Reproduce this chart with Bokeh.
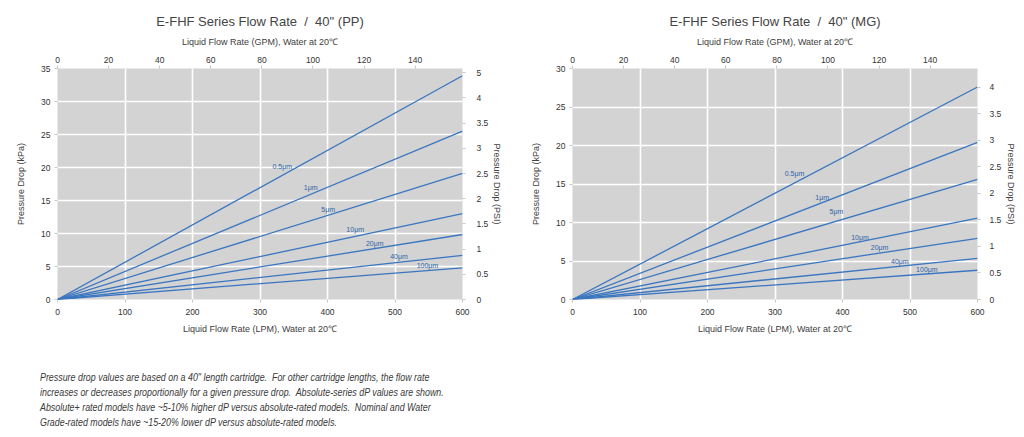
from bokeh.plotting import figure
from bokeh.models import Range1d, LinearAxis, FixedTicker, Div
from bokeh.layouts import column, row
from bokeh.embed import file_html
from bokeh.resources import INLINE
from bokeh.core.properties import value

# ---------------- data ----------------
lpm = [0, 600]
grades = ["0.5μm", "1μm", "5μm", "10μm", "20μm", "40μm", "100μm"]
pp_dp_at_600 = [33.9, 25.5, 19.1, 13.0, 9.85, 6.67, 4.8]
mg_dp_at_600 = [27.6, 20.4, 15.6, 10.56, 7.95, 5.35, 3.8]
pp_label_x = [333, 375, 401, 441, 470, 506, 548]
pp_label_y = [20.2, 16.9, 13.7, 10.6, 8.5, 6.45, 5.1]
mg_label_x = [329, 370, 391, 426, 455, 485, 525]
mg_label_y = [16.3, 13.3, 11.4, 8.1, 6.8, 5.0, 3.9]

lpm_ticks = [0, 100, 200, 300, 400, 500, 600]
gpm_ticks = [0, 20, 40, 60, 80, 100, 120, 140]
pp_kpa_ticks = [0, 5, 10, 15, 20, 25, 30, 35]
mg_kpa_ticks = [0, 5, 10, 15, 20, 25, 30]
pp_psi_ticks = [0, 0.5, 1, 1.5, 2, 2.5, 3, 3.5, 4, 4.5]
pp_psi_labels = ["0", "0.5", "1", "1.5", "2", "2.5", "3", "3.5", "4", "5"]
mg_psi_ticks = [0, 0.5, 1, 1.5, 2, 2.5, 3, 3.5, 4]
mg_psi_labels = ["0", "0.5", "1", "1.5", "2", "2.5", "3", "3.5", "4"]

LPM_PER_GPM = 3.785
KPA_PER_PSI = 6.895

FONT = "Liberation Sans"
LINE_COLOR = "#3a76c0"
TEXT_COLOR = "#404040"
NB = "\u00a0"


def style_axis(ax, label_standoff, axis_label_standoff):
    ax.axis_line_color = None
    ax.major_tick_line_color = "#c8c8c8"
    ax.major_tick_out = 3
    ax.major_tick_in = 0
    ax.minor_tick_line_color = None
    ax.major_label_text_font = FONT
    ax.major_label_text_font_size = "8.5px"
    ax.major_label_text_color = "#333333"
    ax.major_label_standoff = label_standoff
    ax.axis_label_text_font = FONT
    ax.axis_label_text_font_size = "9px"
    ax.axis_label_text_font_style = "normal"
    ax.axis_label_text_color = TEXT_COLOR
    ax.axis_label_standoff = axis_label_standoff


def make_chart(title, ends, lx, ly, kpa_max, kpa_ticks, psi_max, psi_ticks,
               psi_labels, width, height, b_left, b_right, b_top, b_bottom,
               right_standoff, right_label_standoff):
    p = figure(width=width, height=height,
               x_range=Range1d(0, 600), y_range=Range1d(0, kpa_max),
               output_backend="svg", toolbar_location=None,
               min_border_left=b_left, min_border_right=b_right,
               min_border_top=b_top, min_border_bottom=b_bottom,
               background_fill_color="#d3d3d3", border_fill_color="white",
               outline_line_color=None, title=title)
    p.title.text_font = FONT
    p.title.text_font_size = "13px"
    p.title.text_font_style = "normal"
    p.title.text_color = "#444444"
    p.title.align = "center"
    p.title.standoff = 9

    p.extra_x_ranges = {"gpm": Range1d(0, 600 / LPM_PER_GPM)}
    p.extra_y_ranges = {"psi": Range1d(0, psi_max)}

    p.xaxis.ticker = FixedTicker(ticks=lpm_ticks)
    p.xaxis.axis_label = "Liquid Flow Rate (LPM), Water at 20℃"
    p.yaxis.ticker = FixedTicker(ticks=kpa_ticks)
    p.yaxis.axis_label = "Pressure Drop (kPa)"
    style_axis(p.xaxis[0], 6, 6)
    style_axis(p.yaxis[0], 4, 12)

    top = LinearAxis(x_range_name="gpm", ticker=FixedTicker(ticks=gpm_ticks),
                     axis_label="Liquid Flow Rate (GPM), Water at 20℃")
    style_axis(top, 3, 7)
    p.add_layout(top, "above")

    right = LinearAxis(y_range_name="psi", ticker=FixedTicker(ticks=psi_ticks),
                       axis_label="Pressure Drop (PSI)",
                       major_label_overrides={t: s for t, s in zip(psi_ticks, psi_labels)})
    style_axis(right, right_standoff, right_label_standoff)
    p.add_layout(right, "right")

    p.xgrid.ticker = FixedTicker(ticks=lpm_ticks)
    p.ygrid.ticker = FixedTicker(ticks=kpa_ticks)
    p.grid.grid_line_color = "white"
    p.grid.grid_line_width = 1.6

    for v in ends:
        p.line(lpm, [0, v], line_color=LINE_COLOR, line_width=1.3)

    p.text(x=lx, y=ly, text=grades, text_font=value(FONT),
           text_font_size="7px", text_color="#2f63a8",
           text_align="center", text_baseline="middle")
    return p


p1 = make_chart(f"E-FHF Series Flow Rate {NB}/{NB} 40\" (PP)", pp_dp_at_600,
                pp_label_x, pp_label_y, 35, pp_kpa_ticks, 4.585,
                pp_psi_ticks, pp_psi_labels,
                width=512, height=340, b_left=57, b_right=50, b_top=66,
                b_bottom=40, right_standoff=11, right_label_standoff=1)
p2 = make_chart(f"E-FHF Series Flow Rate {NB}/{NB} 40\" (MG)", mg_dp_at_600,
                mg_label_x, mg_label_y, 30, mg_kpa_ticks, 30 / KPA_PER_PSI,
                mg_psi_ticks, mg_psi_labels,
                width=512, height=340, b_left=60, b_right=47, b_top=68,
                b_bottom=41, right_standoff=9, right_label_standoff=2)

note = Div(text=(
    "Pressure drop values are based on a 40\" length cartridge.&nbsp; For other cartridge lengths, the flow rate<br>"
    "increases or decreases proportionally for a given pressure drop.&nbsp; Absolute-series dP values are shown.<br>"
    "Absolute+ rated models have ~5-10% higher dP versus absolute-rated models.&nbsp; Nominal and Water<br>"
    "Grade-rated models have ~15-20% lower dP versus absolute-rated models."),
    width=560, height=60, margin=(30, 0, 0, 40),
    styles={"font-family": "'Liberation Sans', sans-serif",
            "font-style": "italic", "font-size": "10.5px", "line-height": "15px",
            "color": "#3a3a3a", "transform": "scaleX(0.845)",
            "transform-origin": "left top", "white-space": "nowrap"})

layout = column(row(p1, p2), note)
open("out.html", "w").write(file_html(layout, INLINE))
